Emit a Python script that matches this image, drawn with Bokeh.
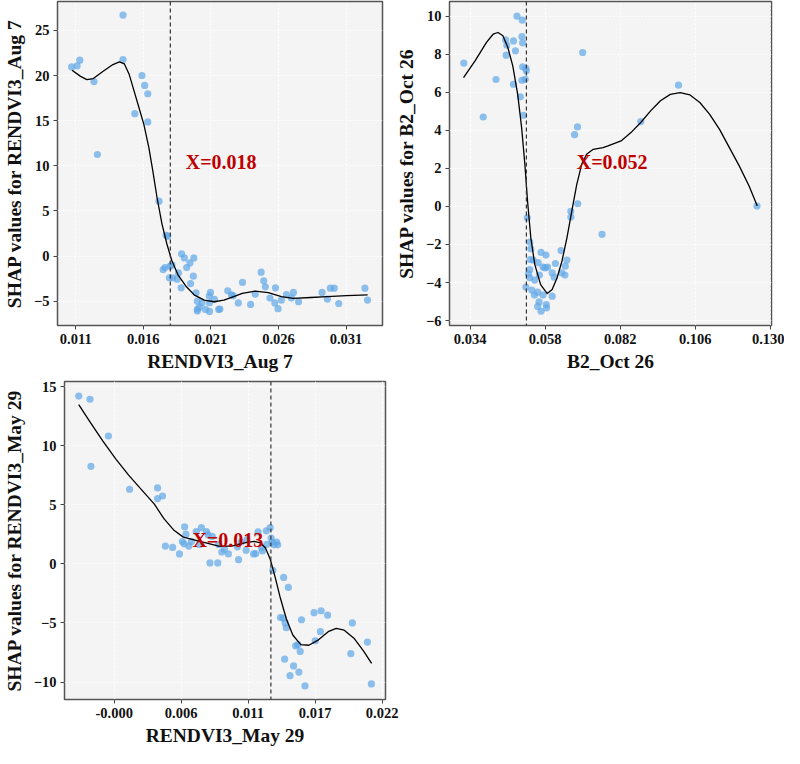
from bokeh.plotting import figure
from bokeh.layouts import column, row
from bokeh.models import Span, FixedTicker, Range1d
from bokeh.core.properties import value
from bokeh.embed import file_html
from bokeh.resources import INLINE

# ---------------- data ----------------
# Panel 1: RENDVI3_Aug 7
p1_x = [0.0107, 0.0111, 0.0113, 0.01235, 0.0126, 0.0145, 0.0145, 0.0159, 0.0161, 0.01633, 0.01537, 0.01633,
        0.01716, 0.01769, 0.01781, 0.01883, 0.01904, 0.01974, 0.01945, 0.01921, 0.01747, 0.01761, 0.0180, 0.01812,
        0.0186, 0.01793, 0.01817, 0.01851, 0.0197, 0.0195, 0.0188, 0.0199, 0.0200, 0.0200, 0.02015, 0.02035,
        0.0206, 0.0209, 0.0200, 0.02097, 0.02088, 0.0209, 0.02126, 0.02167, 0.02158, 0.02225, 0.02252, 0.02264,
        0.02303, 0.02334, 0.02394, 0.02428, 0.02472, 0.02491, 0.02503, 0.02537, 0.02578, 0.02573, 0.02597,
        0.02622, 0.0266, 0.02696, 0.02711, 0.02749, 0.02923, 0.02962, 0.02984, 0.03013, 0.03046, 0.0324, 0.03259]
p1_y = [20.95, 21.06, 21.7, 19.33, 11.25, 26.7, 21.76, 20.0, 18.9, 17.98, 15.77, 14.86,
        6.07, 2.29, 2.2, 0.23, -0.21, -0.21, -0.77, -1.28, -1.5, -1.28, -1.13, -0.98,
        -1.87, -2.42, -2.42, -2.57, -2.24, -3.05, -3.52, -4.07, -5.0, -5.9, -5.7, -5.18,
        -5.92, -6.14, -6.1, -4.04, -4.44, -5.18, -4.8, -5.88, -5.92, -3.85, -4.29, -4.4,
        -5.2, -2.93, -5.37, -4.22, -1.79, -2.75, -3.41, -4.66, -3.52, -5.2, -5.84,
        -4.88, -4.29, -4.66, -4.04, -5.07, -4.04, -4.77, -3.56, -3.56, -5.26, -3.56, -4.88]
p1_fit_x = [0.01073, 0.01133, 0.01182, 0.0123, 0.01303, 0.01375, 0.01423, 0.0146, 0.01496, 0.01532, 0.01568,
            0.01604, 0.01641, 0.0167, 0.01701, 0.01738, 0.01774, 0.0181, 0.01858, 0.01919, 0.01979, 0.02051,
            0.02124, 0.02196, 0.02269, 0.02332, 0.02428, 0.02525, 0.02622, 0.0271, 0.02839, 0.0296, 0.03104,
            0.0326]
p1_fit_y = [20.59, 19.93, 19.55, 19.66, 20.48, 21.21, 21.5, 21.28, 20.1, 18.27, 16.43,
            14.59, 12.02, 9.45, 6.51, 3.57, 1.36, -0.47, -2.12, -3.41, -4.33, -4.88,
            -5.07, -4.88, -4.51, -4.15, -3.9, -4.05, -4.5, -4.7, -4.6, -4.5, -4.4,
            -4.3]
p1_threshold = 0.018
p1_label = "X=0.018"
p1_xticks = [0.011, 0.016, 0.021, 0.026, 0.031]
p1_xtick_labels = ["0.011", "0.016", "0.021", "0.026", "0.031"]
p1_yticks = [-5, 0, 5, 10, 15, 20, 25]

# Panel 2: B2_Oct 26
p2_x = [0.03198, 0.03819, 0.04228, 0.04534, 0.04575, 0.04553, 0.04786, 0.04849, 0.04899, 0.05069, 0.05057,
        0.05079, 0.04786, 0.05006, 0.05057, 0.05164, 0.05079, 0.05183, 0.05195, 0.0511, 0.06739, 0.06833,
        0.0700, 0.08858, 0.10065, 0.12575, 0.0762, 0.06843, 0.06622, 0.06622, 0.05227, 0.05309, 0.05341,
        0.05321, 0.05309, 0.05268, 0.05309, 0.05183, 0.05372, 0.05467, 0.05416, 0.05573, 0.05668, 0.05456,
        0.05561, 0.05605, 0.05561, 0.05668, 0.05731, 0.05803, 0.05825, 0.05876, 0.05835, 0.05844, 0.05731,
        0.06024, 0.06024, 0.06128, 0.06087, 0.06307, 0.06329, 0.06433, 0.06442, 0.06496, 0.05614]
p2_y = [7.53, 4.7, 6.67, 8.76, 8.47, 7.95, 8.7, 8.18, 10.0, 9.79, 8.92,
        8.6, 6.42, 5.76, 6.63, 6.68, 7.34, 7.26, 7.13, 4.79, 3.77, 4.18,
        8.09, 4.46, 6.37, 0.02, -1.47, 0.14, -0.26, -0.56, -0.6, -1.87, -2.23,
        -2.79, -3.32, -3.54, -3.75, -4.24, -4.4, -3.87, -2.82, -2.96, -2.42, -4.66,
        -4.51, -5.02, -5.26, -5.51, -4.66, -3.23, -2.56, -3.19, -5.16, -5.33, -3.19,
        -4.72, -3.49, -3.0, -3.72, -2.32, -3.49, -3.61, -3.14, -2.82, -3.61]
p2_fit_x = [0.03189, 0.03557, 0.03923, 0.04134, 0.04291, 0.04449, 0.04606, 0.04764, 0.04921, 0.05047, 0.05151,
            0.05236, 0.05341, 0.05467, 0.05655, 0.05866, 0.06024, 0.06181, 0.06339, 0.06496, 0.06654, 0.06811,
            0.06969, 0.07126, 0.07337, 0.07652, 0.0781, 0.08228, 0.08543, 0.08858, 0.09173, 0.09488, 0.09803,
            0.10118, 0.10433, 0.10748, 0.11063, 0.11378, 0.11693, 0.12008, 0.12323, 0.12585]
p2_fit_y = [6.77, 7.65, 8.62, 9.05, 9.14, 8.97, 8.35, 7.39, 5.89, 4.14, 2.21,
            0.28, -1.65, -3.05, -4.11, -4.58, -4.37, -3.75, -2.87, -1.65, -0.24, 1.16,
            2.21, 2.74, 3.0, 3.09, 3.18, 3.44, 3.88, 4.41, 5.02, 5.55, 5.89,
            5.98, 5.86, 5.46, 4.84, 4.05, 3.09, 2.13, 1.07, 0.02]
p2_threshold = 0.052
p2_label = "X=0.052"
p2_xticks = [0.034, 0.058, 0.082, 0.106, 0.130]
p2_xtick_labels = ["0.034", "0.058", "0.082", "0.106", "0.130"]
p2_yticks = [-6, -4, -2, 0, 2, 4, 6, 8, 10]

# Panel 3: RENDVI3_May 29
p3_x = [-0.00306, -0.00212, -0.00058, -0.00204, 0.00119, 0.00353, 0.00353, 0.00394, 0.00418, 0.00479, 0.00536,
        0.00579, 0.0059, 0.0056, 0.00574, 0.00614, 0.00676, 0.00719, 0.00762, 0.00775, 0.0081, 0.00791,
        0.00856, 0.0089, 0.00912, 0.00945, 0.0103, 0.0102, 0.01052, 0.01093, 0.01101, 0.01155, 0.01173,
        0.01193, 0.01222, 0.0123, 0.01262, 0.01265, 0.01294, 0.01302, 0.0131, 0.01348, 0.01357, 0.01327,
        0.00636, 0.00703, 0.00864, 0.01316, 0.01407, 0.01446, 0.0138, 0.01402, 0.01419, 0.01429, 0.01556,
        0.01661, 0.0172, 0.01774, 0.01714, 0.01671, 0.01507, 0.01526, 0.01545, 0.01415, 0.0149, 0.0146,
        0.01534, 0.01585, 0.01968, 0.01981, 0.02107, 0.0214]
p3_y = [14.2, 13.93, 10.82, 8.25, 6.31, 6.42, 5.52, 5.74, 1.5, 1.39, 0.84,
        3.14, 2.51, 1.88, 1.69, 1.5, 2.73, 3.06, 2.73, 2.46, 2.32, 0.08,
        0.08, 1.0, 1.23, 0.84, 0.35, 1.44, 1.85, 1.15, 2.05, 0.84, 0.87,
        2.7, 1.36, 1.09, 2.79, 1.64, 3.06, 2.18, 1.83, 1.85, 1.61, 1.61,
        1.9, 1.64, 1.64, -0.55, -1.15, -2.0, -4.54, -4.59, -5.0, -5.41, -4.73,
        -4.13, -3.97, -4.34, -5.74, -6.51, -6.94, -6.84, -7.41, -8.07, -8.64, -9.46,
        -9.16, -10.33, -7.6, -5.0, -6.62, -10.16]
p3_fit_x = [-0.00306, -0.00212, -0.00104, 0.00003, 0.00111, 0.00218, 0.00326, 0.00406, 0.00487, 0.00568, 0.00649,
            0.00757, 0.00864, 0.00971, 0.01079, 0.0116, 0.01214, 0.01254, 0.01294, 0.01335, 0.01375, 0.01429,
            0.01483, 0.0155, 0.01617, 0.01698, 0.01779, 0.01846, 0.01913, 0.01994, 0.02075, 0.02142]
p3_fit_y = [13.47, 12.02, 10.38, 8.88, 7.51, 6.28, 5.05, 3.82, 2.87, 2.26, 2.05,
            1.77, 1.5, 1.5, 1.77, 1.91, 1.77, 1.36, 0.41, -1.1, -2.74, -4.65,
            -6.02, -6.84, -6.89, -6.43, -5.74, -5.47, -5.61, -6.29, -7.38, -8.42]
p3_threshold = 0.013
p3_label = "X=0.013"
p3_xticks = [-0.0001, 0.0055, 0.0111, 0.0167, 0.0223]
p3_xtick_labels = ["-0.000", "0.006", "0.011", "0.017", "0.022"]
p3_yticks = [-10, -5, 0, 5, 10, 15]

FONT = "Liberation Serif"


def make_panel(xs, ys, fx, fy, thr, label, label_pos, xticks, xlabels, yticks,
               xr, yr, xtitle, ytitle, width, height, borders):
    p = figure(width=width, height=height, output_backend="svg", toolbar_location=None,
               x_range=Range1d(*xr), y_range=Range1d(*yr),
               min_border_left=borders[0], min_border_right=borders[1],
               min_border_top=borders[2], min_border_bottom=borders[3])
    p.background_fill_color = "#f4f4f4"
    p.border_fill_color = "white"
    p.outline_line_color = "#555555"
    p.outline_line_width = 1.5
    for g in (p.xgrid, p.ygrid):
        g.grid_line_color = "white"
        g.grid_line_width = 1
        g.grid_line_dash = "2 2"
    p.xaxis.ticker = FixedTicker(ticks=xticks)
    p.xaxis.major_label_overrides = {t: l for t, l in zip(xticks, xlabels)}
    p.yaxis.ticker = FixedTicker(ticks=yticks)
    p.xgrid.ticker = FixedTicker(ticks=xticks)
    p.ygrid.ticker = FixedTicker(ticks=yticks)
    for ax in (p.xaxis, p.yaxis):
        ax.axis_line_color = None
        ax.major_tick_in = 0
        ax.major_tick_out = 4
        ax.major_tick_line_color = "#444444"
        ax.minor_tick_line_color = None
        ax.major_label_text_font = FONT
        ax.major_label_text_font_style = "bold"
        ax.major_label_text_font_size = "14.5px"
        ax.major_label_text_color = "#111111"
        ax.axis_label_text_font = FONT
        ax.axis_label_text_font_style = "bold"
        ax.axis_label_text_font_size = "19.5px"
        ax.axis_label_text_color = "#111111"
        ax.major_label_standoff = 4
    p.xaxis.axis_label = xtitle
    p.yaxis.axis_label = ytitle
    p.xaxis.axis_label_standoff = 4
    p.yaxis.axis_label_standoff = 6

    p.scatter(xs, ys, size=7.2, fill_color="#60a7e7", fill_alpha=0.7, line_color=None)
    p.line(fx, fy, line_color="black", line_width=1.3, line_join="round")
    p.add_layout(Span(location=thr, dimension="height", line_color="#333333",
                      line_dash="4 3", line_width=1.2))
    p.text(x=[label_pos[0]], y=[label_pos[1]], text=[label], text_font=value(FONT),
           text_font_style="bold", text_font_size="20px", text_color="#bf0000",
           text_baseline="middle", text_align="left")
    return p


p1 = make_panel(p1_x, p1_y, p1_fit_x, p1_fit_y, p1_threshold, p1_label, (0.01914, 10.45),
                p1_xticks, p1_xtick_labels, p1_yticks, (0.00965, 0.0337), (-7.7, 28.2),
                "RENDVI3_Aug 7", "SHAP values for RENDVI3_Aug 7", 392, 380, (50, 10, 1, 55))
p2 = make_panel(p2_x, p2_y, p2_fit_x, p2_fit_y, p2_threshold, p2_label, (0.06811, 2.33),
                p2_xticks, p2_xtick_labels, p2_yticks, (0.0274, 0.1304), (-6.26, 10.77),
                "B2_Oct 26", "SHAP values for B2_Oct 26", 392, 380, (56, 13, 1, 55))
p3 = make_panel(p3_x, p3_y, p3_fit_x, p3_fit_y, p3_threshold, p3_label, (0.00644, 2.05),
                p3_xticks, p3_xtick_labels, p3_yticks, (-0.00425, 0.02258), (-11.48, 15.43),
                "RENDVI3_May 29", "SHAP values for RENDVI3_May 29", 400, 368, (52, 15, 1, 45))

layout = column(row(p1, p2), p3)
open("out.html", "w").write(file_html(layout, INLINE))
